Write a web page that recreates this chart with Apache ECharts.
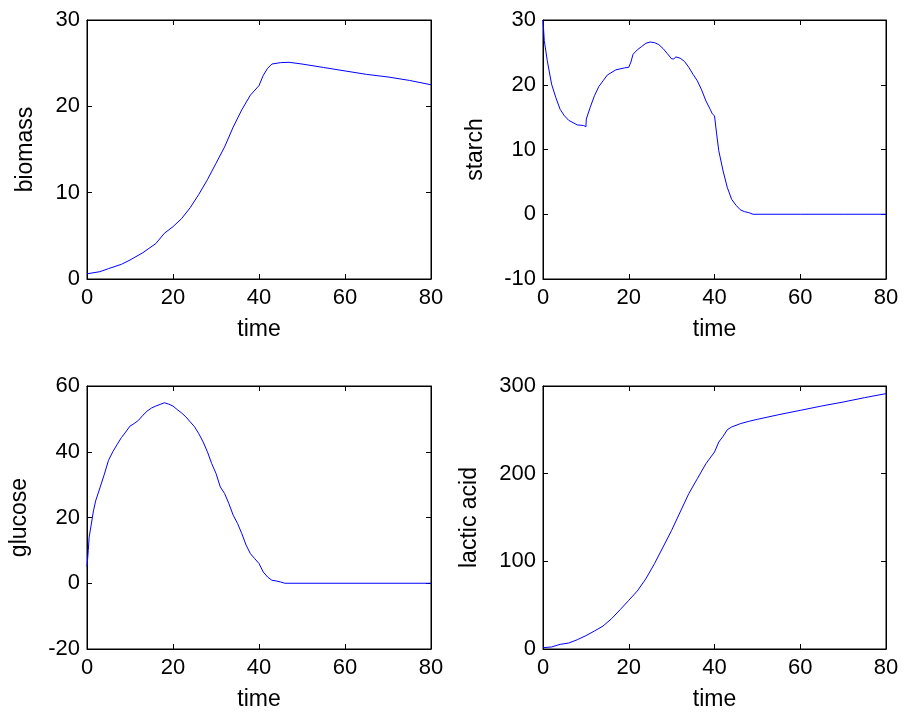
<!DOCTYPE html>
<html>
<head>
<meta charset="utf-8">
<style>
  html, body { margin: 0; padding: 0; background: #ffffff; }
  #chart { width: 903px; height: 713px; }
</style>
<script src="https://cdn.jsdelivr.net/npm/echarts@6/dist/echarts.min.js"></script>
</head>
<body>
<div id="chart"></div>
<script>
// Fermentation simulation: four state variables against time
const biomassTime = [0, 3, 5, 8, 10, 13, 16, 18, 20, 22, 24, 26, 28, 30, 32, 34, 36, 38, 40, 41, 42, 43, 45, 47, 50, 55, 60, 65, 70, 75, 80];
const biomass = [0.6, 0.85, 1.2, 1.7, 2.2, 3.05, 4.1, 5.3, 6.06, 7.0, 8.26, 9.8, 11.5, 13.4, 15.3, 17.6, 19.6, 21.3, 22.4, 23.6, 24.4, 24.9, 25.06, 25.1, 24.9, 24.5, 24.1, 23.7, 23.4, 23.0, 22.5];

const starchTime = [0, 0.3, 0.5, 1, 2, 3, 4, 5, 6, 8, 9.5, 10, 10.1, 11, 12, 13, 14, 15, 17, 19, 20, 20.5, 21, 22, 23, 24, 25, 26, 27, 28, 29, 30, 30.5, 31, 32, 33, 34, 35, 36, 37, 38, 39, 39.5, 40, 40.5, 41, 42, 43, 44, 45, 46, 47, 48, 49, 60, 70, 80];
const starch = [30, 26.8, 26.5, 23.7, 20.1, 18.0, 16.2, 15.2, 14.5, 13.8, 13.7, 13.5, 14.7, 16.5, 18.3, 19.7, 20.6, 21.5, 22.3, 22.6, 22.7, 23.5, 24.7, 25.4, 25.9, 26.4, 26.6, 26.5, 26.2, 25.6, 24.8, 24.0, 24.0, 24.3, 24.1, 23.6, 22.7, 21.6, 20.6, 19.2, 17.5, 16.2, 15.5, 15.2, 12.4, 9.8, 6.7, 4.1, 2.3, 1.4, 0.7, 0.4, 0.25, 0, 0, 0, 0];

const glucoseTime = [0, 0.3, 0.5, 1, 1.5, 2, 3, 4, 5, 6, 7, 8, 9, 10, 11, 12, 13, 14, 15, 16, 17, 18, 19, 20, 21, 22, 23, 24, 25, 26, 27, 28, 29, 30, 31, 32, 33, 34, 35, 36, 37, 38, 39, 40, 41, 42, 43, 44, 45, 46, 60, 70, 80];
const glucose = [5, 10, 14, 18, 22, 25, 29, 33, 37.4, 40, 42.2, 44.3, 46, 47.8, 48.6, 49.6, 51.1, 52.4, 53.3, 53.9, 54.4, 54.9, 54.5, 53.9, 52.8, 51.8, 50.6, 49.1, 47.6, 45.5, 43, 40, 36.4, 33.4, 29.3, 27.3, 24.2, 20.7, 18.2, 15.1, 11.6, 9.0, 7.5, 6.0, 3.4, 1.9, 0.9, 0.7, 0.4, 0, 0, 0, 0];

const lacticTime = [0, 2, 4, 6, 8, 10, 12, 14, 16, 18, 20, 22, 24, 26, 28, 30, 32, 34, 36, 38, 40, 41, 42, 43, 44, 46, 48, 50, 55, 60, 65, 70, 75, 80];
const lactic = [1.5, 2.3, 5.3, 6.8, 10.6, 15.2, 20.5, 26.2, 34.6, 44.9, 55.5, 66.2, 80.2, 97.3, 116.3, 135.4, 156.3, 177.2, 194.3, 211.4, 224.7, 236.1, 242.6, 250.2, 253.2, 257, 259.7, 262, 267.3, 272.2, 277.2, 281.7, 286.7, 291.3];

// Axis ranges and labels for each panel
const timeTicks = { min: 0, max: 80, interval: 20 };
const panels = [
  { name: 'biomass', time: biomassTime, values: biomass, min: 0, max: 30, interval: 10 },
  { name: 'starch', time: starchTime, values: starch, min: -10, max: 30, interval: 10 },
  { name: 'glucose', time: glucoseTime, values: glucose, min: -20, max: 60, interval: 20 },
  { name: 'lactic acid', time: lacticTime, values: lactic, min: 0, max: 300, interval: 100 }
];
const xName = 'time';

const gridBoxes = [
  { left: 87, top: 20, width: 344, height: 259 },
  { left: 543, top: 20, width: 343, height: 259 },
  { left: 87, top: 386, width: 344, height: 263 },
  { left: 543, top: 386, width: 343, height: 263 }
];
const yNameGaps = [50, 56, 56, 62];

const FONT = 'Liberation Sans, Arial, sans-serif';
const TICK_FS = 22;
const NAME_FS = 23;

const grids = [], xAxes = [], yAxes = [], series = [];
panels.forEach((p, i) => {
  grids.push(Object.assign({ show: true, borderColor: '#000', borderWidth: 1, backgroundColor: 'transparent' }, gridBoxes[i]));
  const tick = { show: true, inside: true, length: 5, lineStyle: { color: '#000', width: 1 } };
  const line = { show: true, onZero: false, lineStyle: { color: '#000', width: 1 } };
  // bottom axis with labels, top axis with ticks only
  xAxes.push({
    type: 'value', gridIndex: i, position: 'bottom',
    min: timeTicks.min, max: timeTicks.max, interval: timeTicks.interval,
    name: xName, nameLocation: 'middle', nameGap: 39,
    nameTextStyle: { fontFamily: FONT, fontSize: NAME_FS, color: '#000' },
    axisLine: line, axisTick: tick, splitLine: { show: false },
    axisLabel: { fontFamily: FONT, fontSize: TICK_FS, color: '#000', margin: 8 }
  });
  xAxes.push({
    type: 'value', gridIndex: i, position: 'top',
    min: timeTicks.min, max: timeTicks.max, interval: timeTicks.interval,
    axisLine: line, axisTick: tick, splitLine: { show: false },
    axisLabel: { show: false }
  });
  yAxes.push({
    type: 'value', gridIndex: i, position: 'left',
    min: p.min, max: p.max, interval: p.interval,
    name: p.name, nameLocation: 'middle', nameGap: yNameGaps[i], nameRotate: 90,
    nameTextStyle: { fontFamily: FONT, fontSize: NAME_FS, color: '#000' },
    axisLine: line, axisTick: tick, splitLine: { show: false },
    axisLabel: { fontFamily: FONT, fontSize: TICK_FS, color: '#000', margin: 7 }
  });
  yAxes.push({
    type: 'value', gridIndex: i, position: 'right',
    min: p.min, max: p.max, interval: p.interval,
    axisLine: line, axisTick: tick, splitLine: { show: false },
    axisLabel: { show: false }
  });
  series.push({
    type: 'line', xAxisIndex: 2 * i, yAxisIndex: 2 * i,
    data: p.time.map((t, k) => [t, p.values[k]]),
    showSymbol: false, smooth: false, animation: false,
    lineStyle: { color: '#0000ff', width: 1 },
    itemStyle: { color: '#0000ff' }
  });
});

const chart = echarts.init(document.getElementById('chart'), null, { renderer: 'canvas' });
chart.setOption({
  backgroundColor: '#ffffff',
  animation: false,
  grid: grids,
  xAxis: xAxes,
  yAxis: yAxes,
  series: series
});
</script>
</body>
</html>
